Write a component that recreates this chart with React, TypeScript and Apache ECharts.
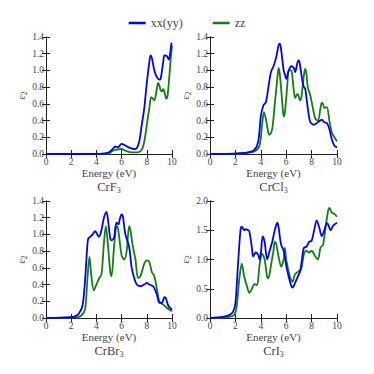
import React, { useEffect, useRef } from "react";
import * as echarts from "echarts";

// Energy (eV), eps2 pairs
const crf3_xx = [[0,0],[3,0],[4.5,0.005],[5,0.02],[5.3,0.06],[5.5,0.09],[5.7,0.08],[6.0,0.12],[6.3,0.1],[6.7,0.07],[7.0,0.06],[7.2,0.07],[7.4,0.15],[7.6,0.35],[7.8,0.55],[8.0,0.85],[8.2,1.1],[8.3,1.18],[8.4,1.15],[8.6,1.0],[8.8,0.92],[9.0,0.89],[9.1,0.9],[9.3,1.1],[9.4,1.18],[9.6,1.17],[9.75,1.13],[9.85,1.2],[9.95,1.32],[10,1.33]];
const crf3_zz = [[0,0],[3,0],[5,0.005],[5.2,0.03],[5.5,0.05],[6.0,0.06],[6.3,0.04],[6.8,0.02],[7.3,0.02],[7.6,0.05],[7.8,0.15],[8.0,0.35],[8.2,0.55],[8.35,0.68],[8.5,0.66],[8.6,0.64],[8.8,0.78],[8.9,0.85],[9.0,0.82],[9.1,0.76],[9.2,0.75],[9.3,0.78],[9.4,0.74],[9.55,0.66],[9.65,0.7],[9.8,0.95],[9.9,1.15],[10,1.3]];

const crcl3_xx = [[0,0],[2,0.005],[3,0.02],[3.5,0.05],[3.8,0.15],[4.0,0.45],[4.2,0.58],[4.4,0.62],[4.6,0.8],[4.8,0.98],[5.0,1.05],[5.2,1.15],[5.4,1.3],[5.5,1.32],[5.6,1.25],[5.8,1.0],[5.9,0.95],[6.0,0.9],[6.2,1.0],[6.4,1.05],[6.6,1.03],[6.7,0.98],[6.9,1.1],[7.0,1.12],[7.1,1.05],[7.3,0.85],[7.4,0.8],[7.5,0.78],[7.7,0.55],[7.9,0.38],[8.2,0.35],[8.5,0.38],[8.8,0.41],[9.0,0.38],[9.2,0.37],[9.4,0.3],[9.6,0.17],[9.8,0.1],[10,0.08]];
const crcl3_zz = [[0,0],[2,0.005],[3,0.015],[3.5,0.03],[3.9,0.1],[4.1,0.35],[4.25,0.5],[4.4,0.42],[4.6,0.25],[4.7,0.23],[4.9,0.3],[5.1,0.6],[5.3,0.9],[5.4,1.03],[5.5,0.95],[5.7,0.6],[5.8,0.45],[5.9,0.5],[6.1,0.85],[6.2,1.0],[6.4,1.0],[6.5,0.9],[6.7,0.67],[6.8,0.7],[6.9,0.72],[7.1,0.64],[7.2,0.68],[7.4,0.95],[7.5,1.02],[7.6,0.95],[7.7,0.8],[7.9,0.7],[8.1,0.55],[8.3,0.42],[8.5,0.4],[8.7,0.55],[8.8,0.61],[8.9,0.6],[9.0,0.55],[9.2,0.56],[9.4,0.4],[9.6,0.25],[9.8,0.2],[10,0.15]];

const crbr3_xx = [[0,0],[2,0.01],[2.3,0.02],[2.6,0.05],[2.9,0.15],[3.1,0.45],[3.25,0.8],[3.35,0.95],[3.5,0.97],[3.7,1.0],[3.9,1.04],[4.0,1.02],[4.2,0.97],[4.4,1.05],[4.6,1.2],[4.8,1.27],[4.9,1.2],[5.1,0.95],[5.2,0.93],[5.4,0.96],[5.5,1.08],[5.6,1.14],[5.75,1.12],[5.85,1.18],[6.0,1.24],[6.1,1.22],[6.3,1.0],[6.6,0.85],[6.8,0.6],[7.0,0.48],[7.2,0.4],[7.5,0.38],[7.8,0.4],[8.0,0.42],[8.2,0.4],[8.5,0.38],[8.8,0.28],[9.0,0.18],[9.2,0.18],[9.4,0.25],[9.5,0.24],[9.7,0.15],[10,0.1]];
const crbr3_zz = [[0,0],[2.5,0.01],[2.8,0.03],[3.1,0.1],[3.3,0.5],[3.45,0.73],[3.6,0.5],[3.8,0.33],[4.0,0.4],[4.2,0.47],[4.4,0.52],[4.6,0.9],[4.75,1.1],[4.9,0.9],[5.1,0.55],[5.2,0.5],[5.4,0.85],[5.6,1.1],[5.7,1.08],[5.8,0.98],[6.0,0.75],[6.2,0.7],[6.4,0.8],[6.6,1.1],[6.7,1.05],[6.9,0.85],[7.1,0.7],[7.3,0.48],[7.5,0.5],[7.8,0.65],[8.0,0.69],[8.2,0.67],[8.4,0.55],[8.6,0.5],[8.8,0.35],[9.0,0.2],[9.3,0.16],[9.6,0.12],[10,0.08]];

const cri3_xx = [[0,0],[1,0.02],[1.5,0.05],[1.8,0.1],[2.0,0.25],[2.2,0.9],[2.4,1.5],[2.5,1.56],[2.7,1.5],[2.8,1.52],[3.0,1.5],[3.1,1.48],[3.3,1.2],[3.4,1.05],[3.6,1.12],[3.8,1.08],[3.9,1.0],[4.0,1.1],[4.15,1.4],[4.3,1.3],[4.5,1.0],[4.7,1.15],[4.9,1.3],[5.1,1.5],[5.3,1.63],[5.4,1.55],[5.6,1.25],[5.8,1.15],[6.0,0.9],[6.2,0.7],[6.4,0.55],[6.5,0.52],[6.7,0.6],[6.9,0.7],[7.1,0.8],[7.3,1.1],[7.4,1.2],[7.6,1.22],[7.8,1.3],[8.0,1.32],[8.2,1.5],[8.4,1.67],[8.6,1.55],[8.8,1.4],[9.0,1.5],[9.2,1.62],[9.3,1.6],[9.5,1.5],[9.7,1.58],[10,1.63]];
const cri3_zz = [[0,0],[1.5,0.02],[1.9,0.05],[2.1,0.2],[2.3,0.65],[2.5,0.93],[2.7,0.7],[2.9,0.55],[3.1,0.43],[3.3,0.5],[3.5,0.58],[3.7,0.56],[3.9,0.9],[4.1,1.1],[4.3,1.0],[4.5,0.7],[4.6,0.68],[4.8,0.9],[5.0,1.15],[5.1,1.3],[5.2,1.28],[5.4,1.05],[5.6,0.88],[5.8,1.0],[5.9,1.2],[6.0,1.0],[6.3,0.7],[6.5,0.62],[6.7,0.75],[7.0,0.8],[7.2,0.85],[7.4,1.1],[7.6,1.15],[7.8,1.12],[8.0,1.15],[8.3,1.05],[8.5,1.0],[8.7,1.2],[8.9,1.25],[9.1,1.55],[9.3,1.83],[9.4,1.88],[9.6,1.8],[9.8,1.78],[10,1.73]];

const seriesNames = ["xx(yy)", "zz"];
const panelTitles = ["CrF{s|3}", "CrCl{s|3}", "CrBr{s|3}", "CrI{s|3}"];
const panelData = [
  [crf3_xx, crf3_zz],
  [crcl3_xx, crcl3_zz],
  [crbr3_xx, crbr3_zz],
  [cri3_xx, cri3_zz],
];
const yMax = [1.4, 1.4, 1.4, 2.0];
const yInterval = [0.2, 0.2, 0.2, 0.5];

const FONT = "Times New Roman";
const TXT = "#444";

export default function App() {
  const ref = useRef<HTMLDivElement>(null);
  useEffect(() => {
    if (!ref.current) return;
    const chart = echarts.init(ref.current, undefined, { renderer: "svg" });
    const grids = [
      { left: 46, top: 37, width: 126, height: 117 },
      { left: 210, top: 37, width: 127, height: 117 },
      { left: 46, top: 201, width: 126, height: 117 },
      { left: 210, top: 201, width: 127, height: 117 },
    ];
    const xAxis: any[] = [];
    const yAxis: any[] = [];
    const series: any[] = [];
    const graphic: any[] = [];
    const subRich = {
      s: { fontSize: 8, fontFamily: FONT, fontWeight: "normal", color: TXT, padding: [6, 0, 0, 0] },
    };
    grids.forEach((g, i) => {
      const tick = { show: true, inside: true, length: 4, lineStyle: { color: "#222", width: 1 } };
      const line = { show: true, lineStyle: { color: "#222", width: 1 } };
      xAxis.push({
        type: "value", gridIndex: i, min: 0, max: 10, interval: 2, position: "bottom",
        axisLine: line, axisTick: tick, splitLine: { show: false },
        axisLabel: { fontFamily: FONT, fontWeight: "normal", fontSize: 9.5, color: TXT, margin: 3 },
        name: "Energy (eV)", nameLocation: "middle", nameGap: 12,
        nameTextStyle: { fontFamily: FONT, fontWeight: "normal", fontSize: 11, color: TXT },
      });
      xAxis.push({
        type: "value", gridIndex: i, min: 0, max: 10, interval: 2, position: "top",
        axisLine: line, axisTick: tick, splitLine: { show: false }, axisLabel: { show: false },
      });
      yAxis.push({
        type: "value", gridIndex: i, min: 0, max: yMax[i], interval: yInterval[i], position: "left",
        axisLine: line, axisTick: tick, splitLine: { show: false },
        axisLabel: { fontFamily: FONT, fontWeight: "normal", fontSize: 9.5, color: TXT, margin: 2,
          formatter: (v: number) => v.toFixed(1) },
        name: "ε{s|2}", nameLocation: "middle", nameGap: 17, nameRotate: 90,
        nameTextStyle: { fontFamily: FONT, fontWeight: "normal", fontSize: 11, color: TXT, rich: subRich },
      });
      yAxis.push({
        type: "value", gridIndex: i, min: 0, max: yMax[i], interval: yInterval[i], position: "right",
        axisLine: line, axisTick: tick, splitLine: { show: false }, axisLabel: { show: false },
      });
      const colors = ["#0000ff", "#108010"];
      panelData[i].forEach((d, k) => {
        series.push({
          type: "line", name: seriesNames[k], xAxisIndex: 2 * i, yAxisIndex: 2 * i,
          data: d, showSymbol: false, symbol: "none", smooth: 0.3,
          lineStyle: { color: colors[k], width: 1.8 }, itemStyle: { color: colors[k] },
          z: k === 0 ? 3 : 2,
        });
      });
      graphic.push({
        type: "text", x: g.left + g.width / 2, y: g.top + g.height + 33,
        style: {
          text: panelTitles[i], align: "center", verticalAlign: "middle",
          fontFamily: FONT, fontWeight: "normal", fontSize: 12.5, fill: TXT, rich: subRich,
        },
      });
    });
    chart.setOption({
      animation: false,
      backgroundColor: "#fff",
      textStyle: { fontFamily: FONT, fontWeight: "normal" },
      legend: {
        data: seriesNames, top: 12, left: "center", itemGap: 30,
        icon: "rect", itemWidth: 17, itemHeight: 2.5,
        textStyle: { fontFamily: FONT, fontWeight: "normal", fontSize: 12, color: TXT },
      },
      grid: grids,
      xAxis, yAxis, series, graphic,
    });
    return () => chart.dispose();
  }, []);
  return <div ref={ref} style={{ width: 374, height: 374, position: "absolute", left: 0, top: 0 }} />;
}
